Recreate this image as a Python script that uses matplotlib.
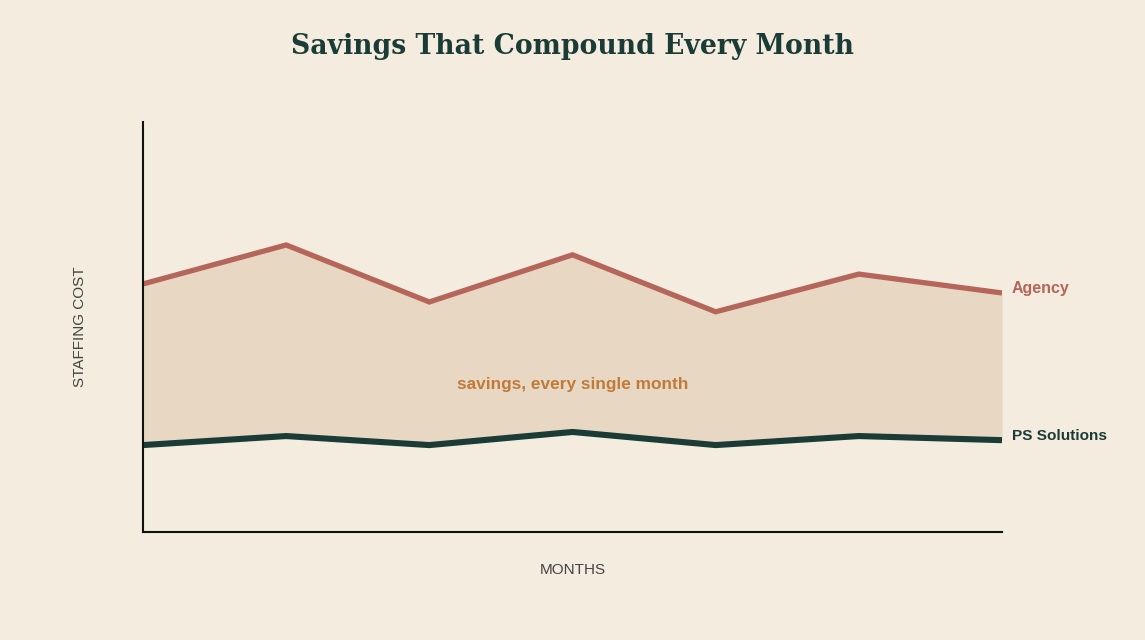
import numpy as np
import matplotlib.pyplot as plt

months = np.arange(7)
agency = [60.5, 70.0, 56.1, 67.6, 53.7, 62.9, 58.3]
ps_solutions = [21.2, 23.4, 21.2, 24.4, 21.2, 23.4, 22.4]

bg = '#F3ECDF'
dark = '#1B3B36'
red = '#B5655A'

fig = plt.figure(figsize=(11.45, 6.4), dpi=100, facecolor=bg)
ax = fig.add_axes([0.1249, 0.16875, 0.7502, 0.64065])
ax.set_facecolor(bg)

ax.fill_between(months, ps_solutions, agency, color='#E8D8C3', linewidth=0)
ax.plot(months, agency, color=red, linewidth=3.8, solid_capstyle='butt', solid_joinstyle='miter')
ax.plot(months, ps_solutions, color=dark, linewidth=4.4, solid_capstyle='butt', solid_joinstyle='miter')

ax.set_xlim(0, 6)
ax.set_ylim(0, 100)
ax.set_xticks([])
ax.set_yticks([])
for s in ['top', 'right']:
    ax.spines[s].set_visible(False)
for s in ['left', 'bottom']:
    ax.spines[s].set_linewidth(1.5)
    ax.spines[s].set_color('#111111')

ax.text(6.07, agency[-1] + 1.0, 'Agency', color=red, fontsize=11.5, fontweight='bold',
        family='Liberation Sans', va='center', ha='left')
ax.text(6.07, ps_solutions[-1] + 1.0, 'PS Solutions', color=dark, fontsize=11.1, fontweight='bold',
        family='Liberation Sans', va='center', ha='left')
ax.text(3.0, 36.0, 'savings, every single month', color='#C07A3A', fontsize=12.4,
        fontweight='bold', family='Liberation Sans', ha='center', va='center')

ax.set_xlabel('MONTHS', fontsize=11, color='#444444', family='Liberation Sans', labelpad=22)
ax.set_ylabel('STAFFING COST', fontsize=11, color='#444444', family='Liberation Sans', labelpad=40)

fig.text(0.5, 0.928, 'Savings That Compound Every Month', ha='center', va='center',
         fontsize=19.2, fontweight='bold', family='DejaVu Serif', color=dark)

plt.savefig('out.png', dpi=100, facecolor=bg)
